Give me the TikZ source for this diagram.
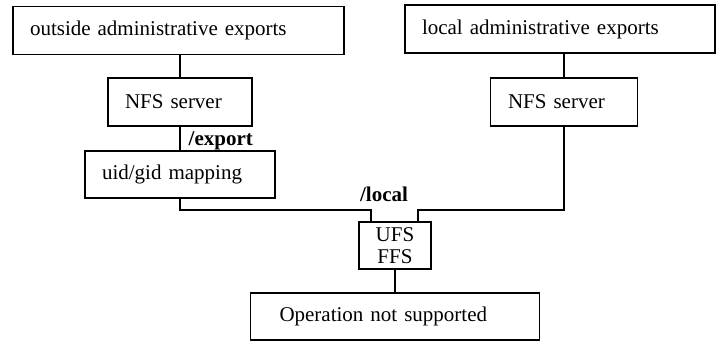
\documentclass[tikz,border=0pt]{standalone}
\usepackage{fontspec}
\setmainfont{Liberation Serif}
\usetikzlibrary{positioning}

\begin{document}
\begin{tikzpicture}[
    x=1pt, y=1pt,
    every node/.style={font=\fontsize{21}{25}\selectfont},
    caja/.style={rectangle, draw, line width=1.1pt, inner xsep=17pt,
                 inner ysep=0pt, align=left, minimum height=48pt},
    fsbox/.style={rectangle, draw, line width=1.1pt, inner sep=0pt,
                  align=center, minimum width=72pt, minimum height=47pt,
                  font=\fontsize{21}{22}\selectfont},
    ruta/.style={font=\fontsize{21}{25}\selectfont\bfseries, inner sep=0.5pt},
    linea/.style={line width=1.3pt}
]
    \useasboundingbox (0,0) rectangle (717,-341);

    \node[caja, text width=297pt] (outside) at (178.5,-30.5) {outside administrative exports};
    \node[caja, text width=276pt] (local)   at (560,-29)     {local administrative exports};
    \node[caja, text width=110pt] (nfsA)    at (180,-102)    {NFS server};
    \node[caja, text width=112pt, inner xsep=17.5pt] (nfsB) at (564,-102) {NFS server};
    \node[caja, text width=156pt, minimum height=47pt] (uid) at (180,-174.5) {uid/gid mapping};
    \node[fsbox] (ufs) at (395,-245.5) {UFS\\FFS};
    \node[caja, text width=231pt, inner xsep=29pt, minimum height=47pt] (op)
         at (395,-316.5) {Operation not supported};

    \coordinate (bus) at (0,-210);

    \node[ruta, anchor=south west] (export) at ([xshift=8pt]uid.north) {/export};
    \node[ruta, anchor=base] (localfs) at ([xshift=-11pt, yshift=20pt]ufs.north) {/local};

    \draw[linea] (outside.south -| nfsA.north) -- (nfsA.north);
    \draw[linea] (local.south -| nfsB.north)   -- (nfsB.north);
    \draw[linea] (nfsA.south) -- (uid.north);
    \draw[linea] (uid.south)  -- (uid.south |- bus) -| ([xshift=-24pt]ufs.north);
    \draw[linea] (nfsB.south) -- (nfsB.south |- bus) -| ([xshift=23pt]ufs.north);
    \draw[linea] (ufs.south)  -- (op.north);
\end{tikzpicture}
\end{document}
